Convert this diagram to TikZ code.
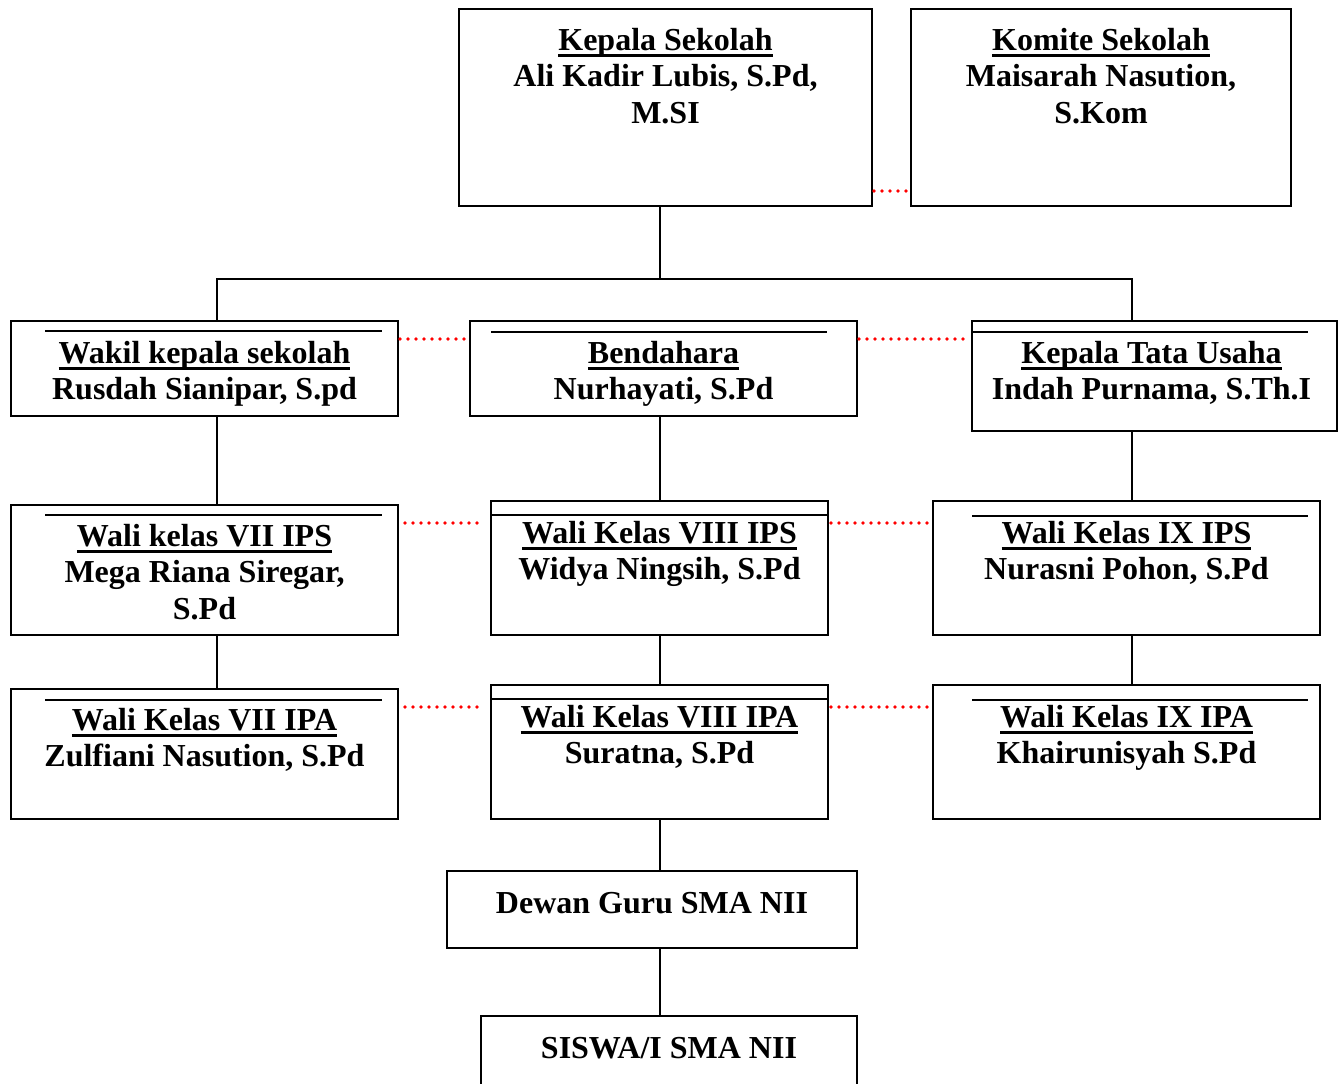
\documentclass[tikz,border=0pt]{standalone}
\usepackage{fontspec}
\setmainfont{Liberation Serif}
\usetikzlibrary{positioning}

\newsavebox{\judulbox}
\newcommand{\judul}[1]{\sbox{\judulbox}{#1}\rlap{\rule[-7pt]{\wd\judulbox}{3.4pt}}\usebox{\judulbox}}

\begin{document}
\begin{tikzpicture}[x=1pt, y=-1pt,
    unitbox/.style={rectangle, draw=black, line width=1.8pt, inner sep=0pt, outer sep=0pt, anchor=north west},
    unittext/.style={align=center, inner sep=0pt, outer sep=0pt, font=\fontsize{32}{36.5}\selectfont\bfseries, execute at begin node={\rule{0pt}{25pt}}},
    topline/.style={line width=1.6pt},
    link/.style={line width=1.4pt},
    assoc/.style={red, line width=3.6pt, line cap=round, dash pattern=on 0pt off 8pt}]

    \path[use as bounding box, fill=white] (0,0) rectangle (1342,1084);

    % pimpinan
    \node[unitbox, minimum width=413pt, minimum height=197pt] (kepsek) at (459,9) {};
    \node[unitbox, minimum width=380pt, minimum height=197pt] (komite) at (911,9) {};
    \node[unittext, below=19pt of kepsek.north] (kepsek-t) {\judul{Kepala Sekolah}\\Ali Kadir Lubis, S.Pd,\\M.SI};
    \node[unittext, below=19pt of komite.north] (komite-t) {\judul{Komite Sekolah}\\Maisarah Nasution,\\S.Kom};

    % staf
    \node[unitbox, minimum width=387pt, minimum height=95pt] (wakil) at (11,321) {};
    \node[unitbox, minimum width=387pt, minimum height=95pt] (bendahara) at (470,321) {};
    \node[unitbox, minimum width=365pt, minimum height=110pt] (ktu) at (972,321) {};
    \node[unittext, below=20pt of wakil.north] (wakil-t) {\judul{Wakil kepala sekolah}\\Rusdah Sianipar, S.pd};
    \node[unittext, below=20pt of bendahara.north] (bendahara-t) {\judul{Bendahara}\\Nurhayati, S.Pd};
    \node[unittext, below=20pt of ktu.north, xshift=-3pt] (ktu-t) {\judul{Kepala Tata Usaha}\\Indah Purnama, S.Th.I};

    % wali kelas IPS
    \node[unitbox, minimum width=387pt, minimum height=130pt] (ips7) at (11,505) {};
    \node[unitbox, minimum width=337pt, minimum height=134pt] (ips8) at (491,501) {};
    \node[unitbox, minimum width=387pt, minimum height=134pt] (ips9) at (933,501) {};
    \node[unittext, below=19pt of ips7.north] (ips7-t) {\judul{Wali kelas VII IPS}\\Mega Riana Siregar,\\S.Pd};
    \node[unittext, below=20pt of ips8.north] (ips8-t) {\judul{Wali Kelas VIII IPS}\\Widya Ningsih, S.Pd};
    \node[unittext, below=20pt of ips9.north] (ips9-t) {\judul{Wali Kelas IX IPS}\\Nurasni Pohon, S.Pd};

    % wali kelas IPA
    \node[unitbox, minimum width=387pt, minimum height=130pt] (ipa7) at (11,689) {};
    \node[unitbox, minimum width=337pt, minimum height=134pt] (ipa8) at (491,685) {};
    \node[unitbox, minimum width=387pt, minimum height=134pt] (ipa9) at (933,685) {};
    \node[unittext, below=19pt of ipa7.north] (ipa7-t) {\judul{Wali Kelas VII IPA}\\Zulfiani Nasution, S.Pd};
    \node[unittext, below=20pt of ipa8.north] (ipa8-t) {\judul{Wali Kelas VIII IPA}\\Suratna, S.Pd};
    \node[unittext, below=20pt of ipa9.north] (ipa9-t) {\judul{Wali Kelas IX IPA}\\Khairunisyah S.Pd};

    % guru dan siswa
    \node[unitbox, minimum width=410pt, minimum height=77pt] (guru) at (447,871) {};
    \node[unitbox, minimum width=376pt, minimum height=70pt] (siswa) at (481,1016) {};
    \node[unittext, below=17pt of guru.north] (guru-t) {Dewan Guru SMA NII};
    \node[unittext, below=17pt of siswa.north] (siswa-t) {SISWA/I SMA NII};

    % garis atas di dalam kotak
    \draw[topline] ([xshift=34pt,yshift=-10pt]wakil.north west) -- ([xshift=-16pt,yshift=-10pt]wakil.north east);
    \draw[topline] ([xshift=21pt,yshift=-11pt]bendahara.north west) -- ([xshift=-30pt,yshift=-11pt]bendahara.north east);
    \draw[topline] ([yshift=-11pt]ktu.north west) -- ([xshift=-29pt,yshift=-11pt]ktu.north east);
    \draw[topline] ([xshift=34pt,yshift=-10pt]ips7.north west) -- ([xshift=-16pt,yshift=-10pt]ips7.north east);
    \draw[topline] ([yshift=-14pt]ips8.north west) -- ([yshift=-14pt]ips8.north east);
    \draw[topline] ([xshift=39pt,yshift=-15pt]ips9.north west) -- ([xshift=-12pt,yshift=-15pt]ips9.north east);
    \draw[topline] ([xshift=34pt,yshift=-11pt]ipa7.north west) -- ([xshift=-16pt,yshift=-11pt]ipa7.north east);
    \draw[topline] ([yshift=-14pt]ipa8.north west) -- ([yshift=-14pt]ipa8.north east);
    \draw[topline] ([xshift=39pt,yshift=-15pt]ipa9.north west) -- ([xshift=-12pt,yshift=-15pt]ipa9.north east);

    % garis komando
    \coordinate (bus) at (660,279);
    \coordinate (lcol) at (217,0);
    \coordinate (rcol) at (1132,0);
    \draw[link] (kepsek.south -| bus) -- (bus);
    \draw[link] (wakil.north -| lcol) |- (bus) -| (ktu.north -| rcol);
    \draw[link] (wakil.south -| lcol) -- (ips7.north -| lcol);
    \draw[link] (ips7.south -| lcol) -- (ipa7.north -| lcol);
    \draw[link] (bendahara.south -| bus) -- (ips8.north -| bus);
    \draw[link] (ips8.south -| bus) -- (ipa8.north -| bus);
    \draw[link] (ipa8.south -| bus) -- (guru.north -| bus);
    \draw[link] (guru.south -| bus) -- (siswa.north -| bus);
    \draw[link] (ktu.south -| rcol) -- (ips9.north -| rcol);
    \draw[link] (ips9.south -| rcol) -- (ipa9.north -| rcol);

    % garis koordinasi
    \draw[assoc] ([shift={(2pt,-182pt)}]kepsek.north east) -- ([shift={(-5pt,-182pt)}]komite.north west);
    \draw[assoc] ([shift={(2pt,-18pt)}]wakil.north east) -- ([shift={(-4pt,-18pt)}]bendahara.north west);
    \draw[assoc] ([shift={(2pt,-18pt)}]bendahara.north east) -- ([shift={(-8pt,-18pt)}]ktu.north west);
    \draw[assoc] ([shift={(7pt,-18pt)}]ips7.north east) -- ([shift={(-11pt,-22pt)}]ips8.north west);
    \draw[assoc] ([shift={(3pt,-22pt)}]ips8.north east) -- ([shift={(-5pt,-22pt)}]ips9.north west);
    \draw[assoc] ([shift={(7pt,-18pt)}]ipa7.north east) -- ([shift={(-11pt,-22pt)}]ipa8.north west);
    \draw[assoc] ([shift={(3pt,-22pt)}]ipa8.north east) -- ([shift={(-5pt,-22pt)}]ipa9.north west);
\end{tikzpicture}
\end{document}
